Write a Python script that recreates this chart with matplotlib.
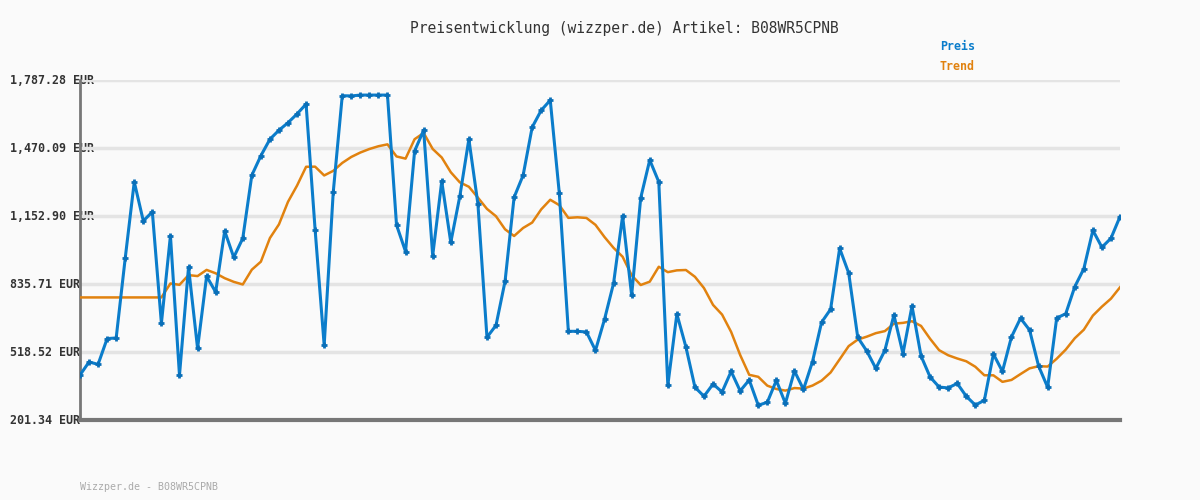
import matplotlib.pyplot as plt

# price data (116 points)
preis = [
    411, 472, 461, 581, 584, 956, 1312, 1130, 1172, 652,
    1061, 410, 914, 536, 872, 798, 1083, 960, 1049, 1343,
    1434, 1511, 1553, 1588, 1629, 1675, 1088, 550, 1263, 1714,
    1713, 1717, 1717, 1717, 1717, 1111, 987, 1456, 1553, 968,
    1315, 1030, 1245, 1511, 1209, 587, 643, 848, 1240, 1343,
    1567, 1646, 1693, 1259, 615, 615, 612, 526, 671, 839,
    1153, 783, 1237, 1414, 1312, 363, 696, 542, 354, 312,
    369, 332, 428, 337, 388, 270, 284, 386, 279, 430,
    344, 474, 657, 718, 1002, 887, 587, 523, 442, 526,
    691, 511, 733, 500, 402, 355, 351, 372, 312, 271,
    293, 509, 428, 589, 676, 621, 453, 354, 677, 697,
    823, 907, 1086, 1007, 1049, 1150,
]

trend = [
    773.1, 773.1, 773.1, 773.1, 773.1, 773.1, 773.1, 773.1, 773.1, 773.1,
    838.1, 831.9, 877.2, 872.7, 901.5, 885.7, 862.8, 845.8, 833.5, 902.6,
    939.9, 1050.0, 1113.9, 1219.1, 1294.8, 1382.5, 1383.0, 1342.0, 1363.4, 1400.5,
    1428.4, 1449.0, 1465.4, 1478.3, 1487.1, 1430.7, 1420.6, 1511.2, 1540.2, 1465.6,
    1425.8, 1357.1, 1309.9, 1289.3, 1238.5, 1186.1, 1151.7, 1090.9, 1059.6, 1097.1,
    1122.3, 1183.9, 1228.7, 1203.5, 1144.1, 1146.9, 1143.8, 1111.6, 1054.7, 1004.3,
    962.9, 876.6, 831.0, 846.5, 916.2, 891.0, 899.4, 901.0, 869.3, 816.6,
    738.2, 693.1, 612.2, 504.5, 412.1, 402.8, 361.6, 346.0, 338.5, 350.3,
    347.8, 362.0, 384.9, 423.0, 484.4, 546.1, 576.4, 590.1, 606.4, 616.0,
    650.7, 654.4, 662.0, 640.2, 580.2, 527.0, 503.4, 488.3, 475.3, 449.8,
    410.0, 409.8, 379.3, 388.2, 415.6, 442.2, 452.4, 450.6, 487.1, 529.7,
    582.7, 622.5, 688.3, 730.1, 767.4, 820.3,
]

yticks = [201.34, 518.52, 835.71, 1152.90, 1470.09, 1787.28]

blue = '#0b7dcb'
orange = '#e1820f'
bg = '#fafafa'
mono = 'DejaVu Sans Mono'

fig = plt.figure(figsize=(12, 5), dpi=100, facecolor=bg)
ax = fig.add_axes([80 / 1200, 80 / 500, 1040 / 1200, 340 / 500], facecolor=bg)

x = list(range(len(preis)))
ax.plot(x, trend, color=orange, lw=1.8, zorder=3)
ax.plot(x, preis, color=blue, lw=2.2, marker='+', ms=5, mew=2,
        mec='#0a6fb8', zorder=4)

ax.set_xlim(0, len(preis) - 1)
ax.set_ylim(yticks[0], yticks[-1])
ax.set_yticks(yticks)
ax.set_yticklabels([])
ax.set_xticks([])
ax.tick_params(left=False, bottom=False)
for t in yticks:
    ax.axhline(t, color='#e4e4e4', lw=2.5, zorder=1)
    ax.text(-70 / 1040, t, f'{t:,.2f} EUR', transform=ax.get_yaxis_transform(),
            ha='left', va='center', fontsize=8.4, fontweight='bold',
            family=mono, color='#333333', zorder=0)

for s in ['top', 'right']:
    ax.spines[s].set_visible(False)
ax.spines['left'].set_color('#777777')
ax.spines['left'].set_linewidth(2)
ax.spines['bottom'].set_color('#777777')
ax.spines['bottom'].set_linewidth(3)

fig.text(624 / 1200, 1 - 28 / 500, 'Preisentwicklung (wizzper.de) Artikel: B08WR5CPNB',
         ha='center', va='center', fontsize=10.5, family=mono, color='#333333')
fig.text(940 / 1200, 1 - 47 / 500, 'Preis', ha='left', va='center',
         fontsize=8.4, fontweight='bold', family=mono, color=blue)
fig.text(940 / 1200, 1 - 67 / 500, 'Trend', ha='left', va='center',
         fontsize=8.4, fontweight='bold', family=mono, color=orange)
fig.text(80 / 1200, 1 - 487 / 500, 'Wizzper.de - B08WR5CPNB', ha='left', va='center',
         fontsize=7.2, family=mono, color='#aaaaaa')

fig.savefig('out.png', dpi=100, facecolor=bg)
